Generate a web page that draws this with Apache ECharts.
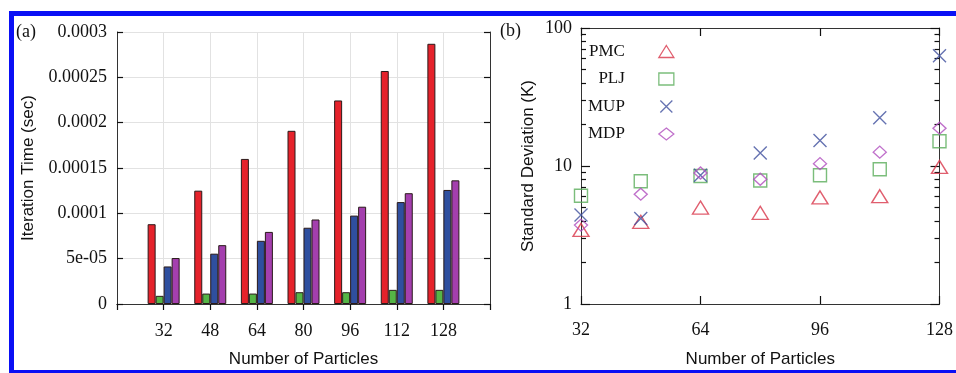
<!DOCTYPE html>
<html>
<head>
<meta charset="utf-8">
<script src="https://cdn.jsdelivr.net/npm/echarts@6/dist/echarts.min.js"></script>
<style>
html,body{margin:0;padding:0;background:#fff;}
#chart{width:956px;height:373px;}
</style>
</head>
<body>
<div id="chart"></div>
<script>
// ---- data ----
const particles = [32, 48, 64, 80, 96, 112, 128];
const barTickLabels = ['0', '5e-05', '0.0001', '0.00015', '0.0002', '0.00025', '0.0003'];
const logTickLabels = ['1', '10', '100'];
const seriesNames = ['PMC', 'PLJ', 'MUP', 'MDP'];
// (a) iteration time (sec)
const timePMC = [8.8e-5, 1.25e-4, 1.60e-4, 1.91e-4, 2.245e-4, 2.57e-4, 2.87e-4];
const timePLJ = [9.0e-6, 1.15e-5, 1.15e-5, 1.3e-5, 1.3e-5, 1.56e-5, 1.56e-5];
const timeMUP = [4.14e-5, 5.55e-5, 6.97e-5, 8.41e-5, 9.75e-5, 1.124e-4, 1.258e-4];
const timeMDP = [5.07e-5, 6.49e-5, 7.95e-5, 9.32e-5, 1.073e-4, 1.222e-4, 1.364e-4];
// (b) standard deviation (K)
const sdPMC = [3.44, 3.94, 5.0, 4.58, 5.92, 6.04, 9.84];
const sdPLJ = [6.08, 7.76, 8.47, 7.85, 8.57, 9.47, 15.1];
const sdMUP = [4.41, 4.17, 8.57, 12.4, 15.3, 22.4, 62.9];
const sdMDP = [3.73, 6.25, 8.9, 8.02, 10.4, 12.6, 18.8];

const SERIF = '"Liberation Serif", "Times New Roman", serif';
const SANS = '"Liberation Sans", Arial, sans-serif';
const axisLineStyle = { color: '#333', width: 1 };
const tickStyle = { color: '#111', width: 1.2 };
const pairs = arr => particles.map((x, i) => [x, arr[i]]);

const chart = echarts.init(document.getElementById('chart'));

function barSeries(name, data, color) {
  return {
    type: 'bar', name: name, xAxisIndex: 0, yAxisIndex: 0,
    data: pairs(data), barWidth: 8, barGap: '0%', z: 1,
    itemStyle: { color: color, borderColor: '#2a1a1a', borderWidth: 1 },
    legendHoverLink: false
  };
}
function scatterSeries(name, data, symbol, size, color) {
  return {
    type: 'scatter', name: name, xAxisIndex: 2, yAxisIndex: 2,
    data: pairs(data), symbol: symbol, symbolSize: size,
    itemStyle: { color: 'rgba(0,0,0,0)', borderColor: color, borderWidth: 1.4 }
  };
}

const option = {
  animation: false,
  backgroundColor: '#fff',
  grid: [
    { left: 117, top: 32, width: 373, height: 275 },
    { left: 581, top: 28, width: 364, height: 276 }
  ],
  xAxis: [
    {
      gridIndex: 0, type: 'value', min: 16, max: 144, interval: 16, position: 'bottom',
      axisLine: { lineStyle: axisLineStyle },
      axisTick: { show: false },
      axisLabel: {
        margin: 18, color: '#111', fontFamily: SERIF, fontSize: 18,
        formatter: v => (particles.indexOf(v) >= 0 ? String(v) : '')
      },
      splitLine: { show: true, lineStyle: { color: '#e2e2e2' } },
      name: 'Number of Particles', nameLocation: 'middle', nameGap: 47,
      nameTextStyle: { fontFamily: SANS, fontSize: 17, color: '#111' }
    },
    {
      gridIndex: 0, type: 'value', min: 16, max: 144, interval: 16, position: 'top',
      axisLine: { show: true, lineStyle: axisLineStyle },
      axisTick: { show: true, inside: true, length: 6, lineStyle: tickStyle },
      axisLabel: { show: false }, splitLine: { show: false }
    },
    {
      gridIndex: 1, type: 'value', min: 32, max: 128, interval: 32, position: 'bottom',
      axisLine: { lineStyle: axisLineStyle },
      axisTick: { show: true, inside: true, length: 8, lineStyle: tickStyle },
      axisLabel: { margin: 17, color: '#111', fontFamily: SERIF, fontSize: 18 },
      splitLine: { show: false },
      name: 'Number of Particles', nameLocation: 'middle', nameGap: 47,
      nameTextStyle: { fontFamily: SANS, fontSize: 17, color: '#111' }
    },
    {
      gridIndex: 1, type: 'value', min: 32, max: 128, interval: 32, position: 'top',
      axisLine: { show: true, lineStyle: axisLineStyle },
      axisTick: { show: true, inside: true, length: 8, lineStyle: tickStyle },
      axisLabel: { show: false }, splitLine: { show: false }
    }
  ],
  yAxis: [
    {
      gridIndex: 0, type: 'value', min: 0, max: 0.0003, interval: 0.00005, position: 'left',
      axisLine: { show: true, lineStyle: axisLineStyle },
      axisTick: { show: true, inside: true, length: 6, lineStyle: tickStyle },
      axisLabel: {
        margin: 10, color: '#111', fontFamily: SERIF, fontSize: 18,
        formatter: v => barTickLabels[Math.round(v / 0.00005)]
      },
      splitLine: { show: true, lineStyle: { color: '#e2e2e2' } },
      name: 'Iteration Time (sec)', nameLocation: 'middle', nameGap: 80,
      nameTextStyle: { fontFamily: SANS, fontSize: 17, color: '#111' }
    },
    {
      gridIndex: 0, type: 'value', min: 0, max: 0.0003, interval: 0.00005, position: 'right',
      axisLine: { show: true, lineStyle: axisLineStyle },
      axisTick: { show: true, inside: true, length: 6, lineStyle: tickStyle },
      axisLabel: { show: false }, splitLine: { show: false }
    },
    {
      gridIndex: 1, type: 'log', logBase: 10, min: 1, max: 100, position: 'left',
      axisLine: { show: true, lineStyle: axisLineStyle },
      axisTick: { show: true, inside: true, length: 9, lineStyle: tickStyle },
      minorTick: { show: true, splitNumber: 9, length: 5, lineStyle: tickStyle },
      axisLabel: {
        margin: 9, color: '#111', fontFamily: SERIF, fontSize: 18,
        formatter: v => logTickLabels[Math.round(Math.log10(v))]
      },
      splitLine: { show: false },
      name: 'Standard Deviation (K)', nameLocation: 'middle', nameGap: 44,
      nameTextStyle: { fontFamily: SANS, fontSize: 17, color: '#111' }
    },
    {
      gridIndex: 1, type: 'log', logBase: 10, min: 1, max: 100, position: 'right',
      axisLine: { show: true, lineStyle: axisLineStyle },
      axisTick: { show: true, inside: true, length: 9, lineStyle: tickStyle },
      minorTick: { show: true, splitNumber: 9, length: 5, lineStyle: tickStyle },
      axisLabel: { show: false }, splitLine: { show: false }
    }
  ],
  legend: {
    show: true, orient: 'vertical', align: 'right',
    left: 588, top: 43, padding: 0, itemGap: 10.5,
    itemWidth: 15, itemHeight: 12, selectedMode: false,
    itemStyle: { borderWidth: 1.3 },
    data: seriesNames.map(n => ({ name: n })),
    textStyle: { fontFamily: SERIF, fontSize: 17, color: '#111', lineHeight: 17, padding: [0, 29, 0, 0] }
  },
  series: [
    barSeries('bPMC', timePMC, '#e5222b'),
    barSeries('bPLJ', timePLJ, '#55b546'),
    barSeries('bMUP', timeMUP, '#2f4f9f'),
    barSeries('bMDP', timeMDP, '#a43fae'),
    scatterSeries('PMC', sdPMC, 'triangle', [16, 13], '#d8364a'),
    scatterSeries('PLJ', sdPLJ, 'rect', [13, 13], '#5aad5a'),
    scatterSeries('MUP', sdMUP, 'path://M0,0L10,10M10,0L0,10', [13, 13], '#3e4f9e'),
    scatterSeries('MDP', sdMDP, 'diamond', [13, 12], '#b04ebe')
  ],
  graphic: [
    { type: 'rect', z: 100, shape: { x: 9, y: 11, width: 947, height: 5 }, style: { fill: '#0a10f5' } },
    { type: 'rect', z: 100, shape: { x: 9, y: 11, width: 5, height: 362 }, style: { fill: '#0a10f5' } },
    { type: 'rect', z: 100, shape: { x: 9, y: 370, width: 947, height: 3 }, style: { fill: '#0a10f5' } },
    { type: 'text', z: 100, left: 16, top: 23, style: { text: '(a)', font: '18px ' + SERIF, fill: '#111' } },
    { type: 'text', z: 100, left: 500, top: 22, style: { text: '(b)', font: '18px ' + SERIF, fill: '#111' } }
  ]
};
chart.setOption(option);
</script>
</body>
</html>
